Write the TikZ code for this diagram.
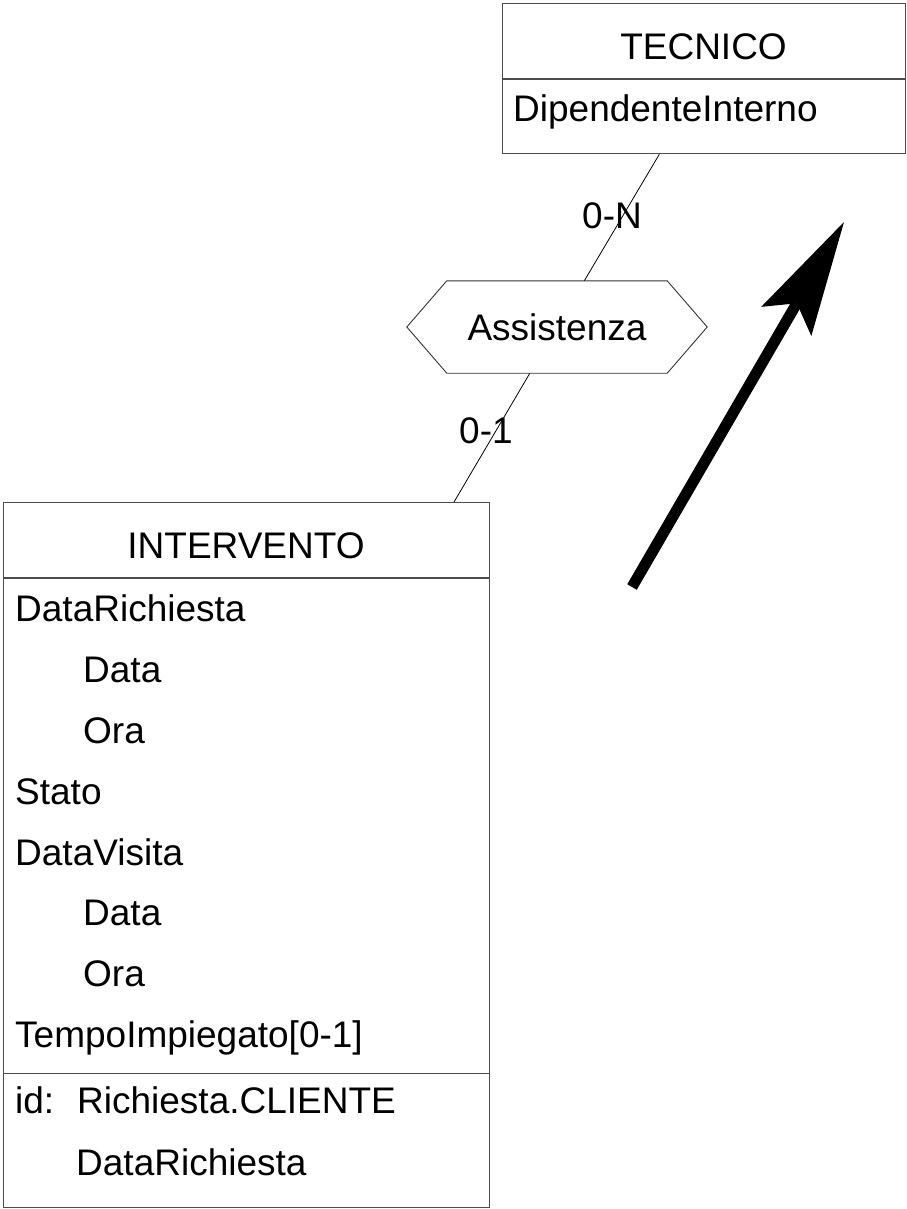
\documentclass[tikz,border=0pt]{standalone}
\usepackage{fontspec}
\setmainfont{Liberation Sans}
\usetikzlibrary{arrows.meta}
\begin{document}
\begin{tikzpicture}[x=1pt,y=-1pt,
  font=\fontsize{37}{44}\selectfont,
  ent/.style={draw=black!70, line width=1.3pt, inner sep=0pt, anchor=north west},
  sep/.style={black!70, line width=1.3pt},
  attr/.style={inner sep=0pt, anchor=base west},
  card/.style={inner sep=0pt, anchor=base west}]
\useasboundingbox (0,0) rectangle (906,1209);
% entities and relationship
\node [ent, minimum width=403pt, minimum height=150pt] (tecnico) at (502,3) {};
\node [ent, minimum width=486pt, minimum height=705pt] (intervento) at (3,502) {};
\node [minimum width=300pt, minimum height=92pt, inner sep=0pt] (assistenza) at (557,327) {Assistenza};
% links
\draw [line width=.8pt] (tecnico) -- (assistenza) -- (intervento);
\draw [line width=.9pt, black!80] (assistenza.west) -- ([xshift=40pt]assistenza.north west) -- ([xshift=-40pt]assistenza.north east) -- (assistenza.east) -- ([xshift=-40pt]assistenza.south east) -- ([xshift=40pt]assistenza.south west) -- cycle;
\node [card] (card tec) at (582,228) {0-N};
\node [card] (card int) at (459,443) {0-1};
% TECNICO
\draw [sep] ([yshift=-76pt]tecnico.north west) -- ([yshift=-76pt]tecnico.north east);
\node [attr, anchor=base] (tecnico name) at (703.5,60) {TECNICO};
\node [attr] (dip interno) at (513,122) {DipendenteInterno};
% INTERVENTO
\draw [sep] ([yshift=-76pt]intervento.north west) -- ([yshift=-76pt]intervento.north east);
\draw [sep] ([yshift=135pt]intervento.south west) -- ([yshift=135pt]intervento.south east);
\node [attr, anchor=base] (intervento name) at (246,558) {INTERVENTO};
\node [attr] (data rich) at (15,621) {DataRichiesta};
\node [attr] (data rich d) at (83,682) {Data};
\node [attr] (data rich o) at (83,743) {Ora};
\node [attr] (stato) at (15,804) {Stato};
\node [attr] (data vis) at (15,865) {DataVisita};
\node [attr] (data vis d) at (83,925) {Data};
\node [attr] (data vis o) at (83,986) {Ora};
\node [attr] (tempo) at (15,1047) {TempoImpiegato[0-1]};
\node [attr] (id) at (15,1113) {id:};
\node [attr] (id rich) at (77,1113) {Richiesta.CLIENTE};
\node [attr] (id data) at (76,1175) {DataRichiesta};
% arrow
\coordinate (arrow start) at (632,587);
\coordinate (arrow end) at (844,222);
\draw [line width=11pt, -{Stealth[length=115pt, width=58pt, inset=21pt, line width=0pt]}] (arrow start) -- (arrow end);
\end{tikzpicture}
\end{document}
